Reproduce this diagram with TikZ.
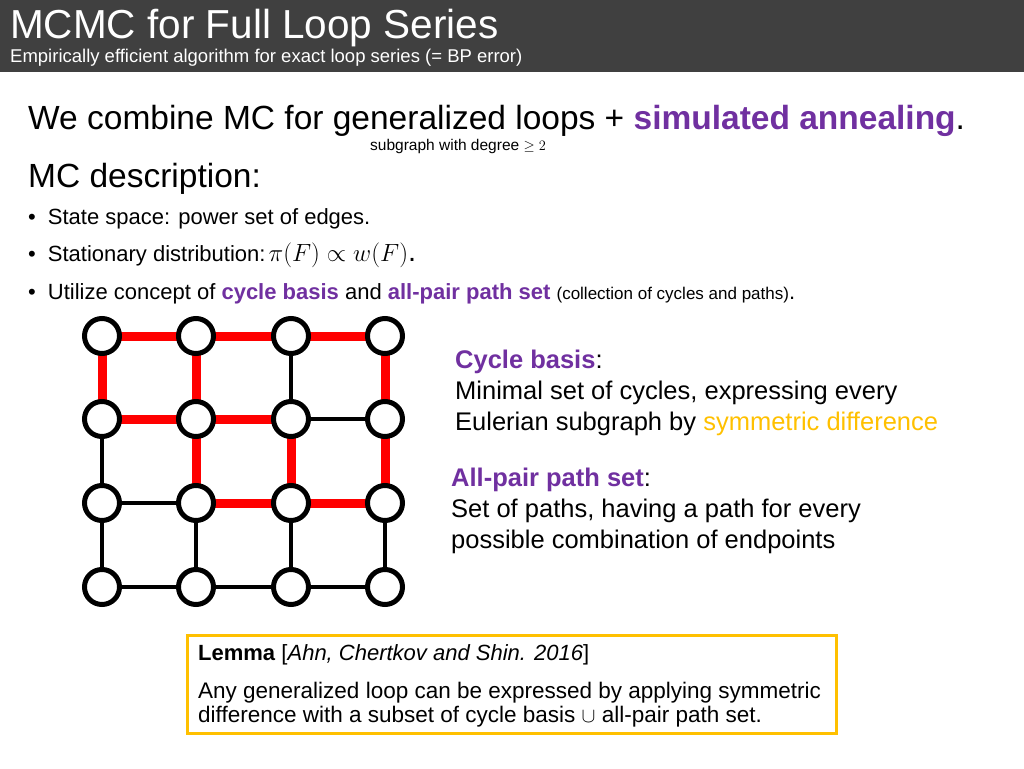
\documentclass[tikz,border=0pt]{standalone}
\usepackage{fontspec}
\setmainfont{Liberation Sans}
\usepackage{amssymb}
\definecolor{purp}{HTML}{7030A0}
\definecolor{gold}{HTML}{FFC000}
\definecolor{bar}{HTML}{404040}
\newcommand{\fs}[1]{\fontsize{#1}{#1}\selectfont}
\begin{document}
\begin{tikzpicture}[x=1pt,y=-1pt,
  vert/.style={circle,draw=black,line width=5pt,fill=white,minimum size=35pt,inner sep=0pt},
  bl/.style={line width=4.5pt,black},
  rd/.style={line width=9pt,red},
  txt/.style={anchor=base west,inner sep=0pt}]
\useasboundingbox (0,0) rectangle (1024,768);
\fill[bar] (0,0) rectangle (1024,72);
\node[txt,text=white] (title) at (10,38) {\fs{40.5}MCMC for Full Loop Series};
\node[txt,text=white] (sub) at (10,63) {\fs{18.5}Empirically efficient algorithm for exact loop series (= BP error)};
\node[txt] (l1) at (28,129) {\fs{33.5}We combine MC for generalized loops + \textcolor{purp}{\textbf{simulated annealing}}.};
\node[txt] (l1s) at (370,150) {\fs{15.5}subgraph with degree $\geq 2$};
\node[txt] (l2) at (28,187) {\fs{33.5}MC description:};
\node[txt] (b1) at (28,224) {\fs{22}•\hspace{12pt}State space: power set of edges.};
\node[txt] (b2) at (28,261) {\fs{22}•\hspace{12pt}Stationary distribution:\hspace{3pt}\fs{29}$\pi(F)\propto w(F)$.};
\node[txt] (b3) at (28,299) {\fs{22}•\hspace{12pt}Utilize concept of \textcolor{purp}{\textbf{cycle basis}} and \textcolor{purp}{\textbf{all-pair path set}} {\fs{17}(collection of cycles and paths)}.};
\foreach \i/\x in {1/102,2/196,3/291,4/385}
  \foreach \j/\y in {1/336,2/419,3/503,4/587}
    \coordinate (p\i\j) at (\x,\y);
\foreach \a/\b in {p32/p42,p13/p23,p14/p24,p24/p34,p34/p44,p12/p13,p13/p14,p23/p24,p31/p32,p33/p34,p43/p44}
  \draw[bl] (\a) -- (\b);
\foreach \a/\b in {p11/p21,p21/p31,p31/p41,p11/p12,p21/p22,p41/p42,p12/p22,p22/p32,p22/p23,p32/p33,p42/p43,p23/p33,p33/p43}
  \draw[rd] (\a) -- (\b);
\foreach \i in {1,2,3,4}
  \foreach \j in {1,2,3,4}
    \node[vert] (n\i\j) at (p\i\j) {};
\node[txt] (c1) at (455,368) {\fs{25.5}\textcolor{purp}{\textbf{Cycle basis}}:};
\node[txt] (c2) at (455,399) {\fs{25.5}Minimal set of cycles, expressing every};
\node[txt] (c3) at (455,430) {\fs{25.5}Eulerian subgraph by \textcolor{gold}{symmetric difference}};
\node[txt] (a1) at (451,486) {\fs{25.5}\textcolor{purp}{\textbf{All-pair path set}}:};
\node[txt] (a2) at (451,517) {\fs{25.5}Set of paths, having a path for every};
\node[txt] (a3) at (451,548) {\fs{25.5}possible combination of endpoints};
\draw[gold,line width=3pt] (187,635) rectangle (836,733);
\node[txt] (lem) at (198,660) {\fs{22}\textbf{Lemma} [\textit{Ahn, Chertkov and Shin. 2016}]};
\node[txt] (lt1) at (198,698) {\fs{22.5}Any generalized loop can be expressed by applying symmetric};
\node[txt] (lt2) at (198,722) {\fs{22.5}difference with a subset of cycle basis $\cup$ all-pair path set.};
\end{tikzpicture}
\end{document}
